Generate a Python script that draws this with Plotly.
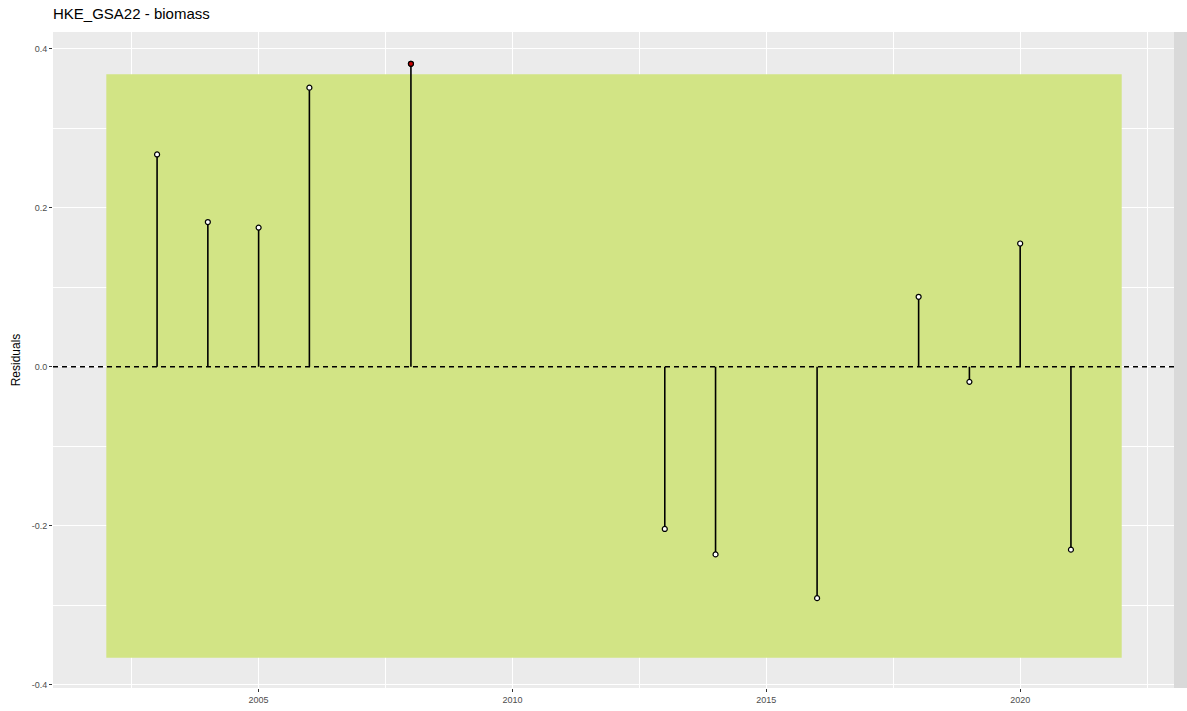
import plotly.graph_objects as go

years = [2003, 2004, 2005, 2006, 2008, 2013, 2014, 2016, 2018, 2019, 2020, 2021]
residuals = [0.267, 0.182, 0.175, 0.351, 0.381, -0.204, -0.236, -0.291, 0.088, -0.019, 0.155, -0.230]
outlier_year = [2008]
outlier_res = [0.381]
band_x = [2002, 2022]
band_y = [-0.366, 0.368]
title = "HKE_GSA22 - biomass"

fig = go.Figure()

# green band (above grid, below data)
fig.add_shape(type="rect", xref="x", yref="y", x0=band_x[0], x1=band_x[1],
              y0=band_y[0], y1=band_y[1], fillcolor="#d2e485",
              line=dict(width=0), layer="between")

# zero line
fig.add_shape(type="line", xref="paper", yref="y", x0=0, x1=1, y0=0, y1=0,
              line=dict(color="black", width=1.3, dash="5px,4px"))

# segments
sx, sy = [], []
for x, y in zip(years, residuals):
    sx += [x, x, None]
    sy += [0, y, None]
fig.add_trace(go.Scatter(x=sx, y=sy, mode="lines", line=dict(color="black", width=1.6),
                         hoverinfo="skip", showlegend=False))

fig.add_trace(go.Scatter(x=years, y=residuals, mode="markers",
                         marker=dict(size=5, color="white", line=dict(color="black", width=1.2)),
                         showlegend=False))
fig.add_trace(go.Scatter(x=outlier_year, y=outlier_res, mode="markers",
                         marker=dict(size=5, color="#cc0000", line=dict(color="black", width=1.2)),
                         showlegend=False))

# right strip
fig.add_shape(type="rect", xref="paper", yref="paper", x0=1.0, x1=1.03, y0=0, y1=1,
              fillcolor="#d9d9d9", line=dict(width=0), layer="above")

fig.update_layout(
    width=1187, height=711,
    margin=dict(l=53, r=13, t=32, b=23, autoexpand=False),
    paper_bgcolor="white", plot_bgcolor="#ebebeb",
    font=dict(family="Liberation Sans, Arial, sans-serif", color="#4d4d4d"),
    title=dict(text=title, x=0, xref="paper", xanchor="left", y=1, yref="container",
               yanchor="top", pad=dict(t=8),
               font=dict(size=15, color="black")),
    showlegend=False,
)
fig.update_xaxes(range=[2000.95, 2023.03], tickvals=[2005, 2010, 2015, 2020],
                 showgrid=True, gridcolor="white", gridwidth=1.2,
                 minor=dict(showgrid=True, gridcolor="white", gridwidth=0.6,
                            tickvals=[2002.5, 2007.5, 2012.5, 2017.5, 2022.5]),
                 ticks="outside", ticklen=3, tickcolor="#333333", tickwidth=1,
                 tickfont=dict(size=9, color="#4d4d4d"), zeroline=False, automargin=False)
fig.update_yaxes(range=[-0.404, 0.421], tickvals=[-0.4, -0.2, 0.0, 0.2, 0.4],
                 ticktext=["-0.4", "-0.2", "0.0", "0.2", "0.4"],
                 showgrid=True, gridcolor="white", gridwidth=1.2,
                 minor=dict(showgrid=True, gridcolor="white", gridwidth=0.6,
                            tickvals=[-0.3, -0.1, 0.1, 0.3]),
                 ticks="outside", ticklen=3, tickcolor="#333333", tickwidth=1,
                 tickfont=dict(size=9, color="#4d4d4d"), zeroline=False, automargin=False,
                 title=dict(text="Residuals", font=dict(size=12, color="black"), standoff=8))

fig.write_html("out.html", config={"displayModeBar": False},
               post_script="document.body.style.margin='0';")
